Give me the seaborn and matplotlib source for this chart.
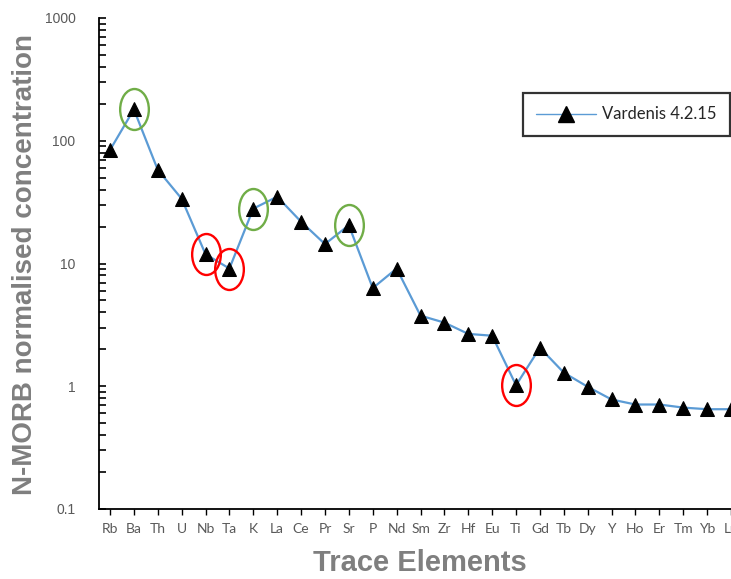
import numpy as np
import pandas as pd
import matplotlib
matplotlib.use("Agg")
import matplotlib.pyplot as plt
import seaborn as sns
from matplotlib.path import Path
from matplotlib.transforms import Affine2D
from matplotlib.ticker import LogLocator, NullFormatter, FixedLocator, FixedFormatter

elements = ["Rb", "Ba", "Th", "U", "Nb", "Ta", "K", "La", "Ce", "Pr", "Sr", "P", "Nd", "Sm",
            "Zr", "Hf", "Eu", "Ti", "Gd", "Tb", "Dy", "Y", "Ho", "Er", "Tm", "Yb", "Lu"]
values = [84, 180, 58, 33.7, 11.9, 9.1, 28, 35, 21.9, 14.4, 20.5, 6.3, 9.1, 3.76,
          3.3, 2.67, 2.58, 1.02, 2.06, 1.29, 0.99, 0.78, 0.71, 0.71, 0.67, 0.65, 0.65]
series_name = "Vardenis 4.2.15"
enriched = ["Ba", "K", "Sr"]
depleted = ["Nb", "Ta", "Ti"]
y_ticks = [0.1, 1, 10, 100, 1000]
y_tick_labels = ["0.1", "1", "10", "100", "1000"]

df = pd.DataFrame({"element": elements, "value": values, "sample": series_name})

sns.set_style("white")
plt.rcParams["font.family"] = ["Liberation Sans", "DejaVu Sans"]

fig = plt.figure(figsize=(7.31, 5.79), dpi=100)
ax = fig.add_axes([99 / 731, 70 / 579, 643 / 731, 491 / 579])

sns.lineplot(data=df, x="element", y="value", hue="sample", palette=["#5B9BD5"],
             marker="^", markersize=10, markerfacecolor="black", markeredgecolor="black",
             linewidth=1.6, sort=False, ax=ax, legend=False)

ell = Path.unit_circle().transformed(Affine2D().scale(0.7, 1.0))
val = dict(zip(elements, values))
ax.plot(enriched, [val[e] for e in enriched], linestyle="none", marker=ell, markersize=29.5,
        markerfacecolor="none", markeredgecolor="#70AD47", markeredgewidth=1.7)
ax.plot(depleted, [val[e] for e in depleted], linestyle="none", marker=ell, markersize=29.5,
        markerfacecolor="none", markeredgecolor="#FF0000", markeredgewidth=1.7)

ax.set_yscale("log")
ax.set_ylim(0.1, 1000)
ax.set_xlim(-0.46, 26.46)
ax.yaxis.set_major_locator(FixedLocator(y_ticks))
ax.yaxis.set_major_formatter(FixedFormatter(y_tick_labels))
ax.yaxis.set_minor_locator(LogLocator(base=10, subs=np.arange(2, 10)))
ax.yaxis.set_minor_formatter(NullFormatter())

for s in ["top", "right"]:
    ax.spines[s].set_visible(False)
for s in ["left", "bottom"]:
    ax.spines[s].set_color("black")
    ax.spines[s].set_linewidth(1.3)

ax.tick_params(axis="y", which="both", direction="in", length=5, width=1.2, color="black",
               labelsize=10, labelcolor="#595959", left=True, pad=17)
ax.tick_params(axis="x", which="major", direction="out", length=4, width=1.0, color="black",
               labelsize=10, labelcolor="#595959", bottom=True, pad=6)
for lab in ax.get_xticklabels():
    lab.set_family(["Lato", "DejaVu Sans"])

ax.set_xlabel("Trace Elements", fontsize=21, fontweight="bold", color="#7F7F7F")
ax.set_ylabel("N-MORB normalised concentration", fontsize=20, fontweight="bold",
              color="#7F7F7F")
ax.xaxis.set_label_coords((420 - 99) / 643, -0.081)
ax.yaxis.set_label_coords(-(99 - 38) / 643, (579 - 265 - 70) / 491)

h_line = plt.Line2D([], [], color="#5B9BD5", linewidth=1.0, marker="^", markersize=11,
                    markerfacecolor="black", markeredgecolor="black")
leg = ax.legend([h_line], [series_name], loc="upper left",
                bbox_to_anchor=(523 / 731, 1 - 93 / 579), bbox_transform=fig.transFigure,
                frameon=True, fancybox=False, edgecolor="black",
                handlelength=3.6, borderpad=0.8, handletextpad=0.35, borderaxespad=0,
                prop={"family": ["Lato", "DejaVu Sans"], "size": 12})
leg.get_frame().set_linewidth(1.6)

fig.savefig("out.png", dpi=100)
